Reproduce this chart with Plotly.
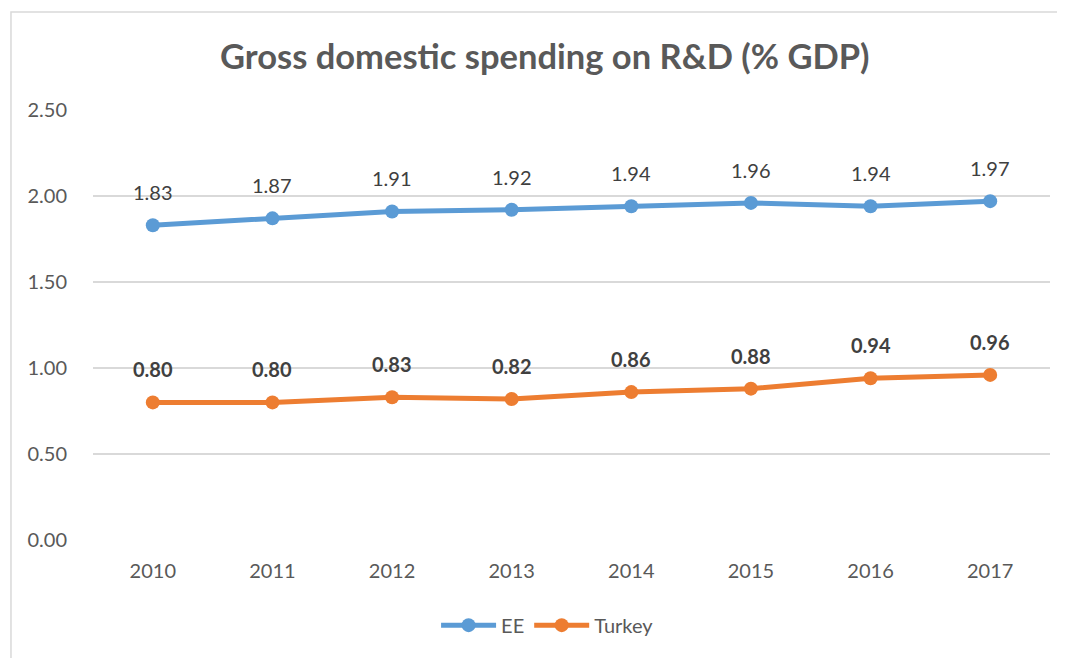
import plotly.graph_objects as go

# data
YEARS = ["2010", "2011", "2012", "2013", "2014", "2015", "2016", "2017"]
EE = [1.83, 1.87, 1.91, 1.92, 1.94, 1.96, 1.94, 1.97]
TURKEY = [0.80, 0.80, 0.83, 0.82, 0.86, 0.88, 0.94, 0.96]
Y_TICKS = [0, 0.5, 1.0, 1.5, 2.0, 2.5]

BLUE = "#5B9BD5"
ORANGE = "#ED7D31"
FONT = "Lato"
GREY = "#595959"

fig = go.Figure()
fig.add_trace(go.Scatter(x=YEARS, y=EE, name="EE", mode="lines+markers",
                         line=dict(color=BLUE, width=5), marker=dict(size=14, color=BLUE)))
fig.add_trace(go.Scatter(x=YEARS, y=TURKEY, name="Turkey", mode="lines+markers",
                         line=dict(color=ORANGE, width=5), marker=dict(size=14, color=ORANGE)))

# data labels above the points (category index so "2010" isn't read as a number)
for i, v in enumerate(EE):
    fig.add_annotation(x=i, y=v, text=f"{v:.2f}", showarrow=False, yshift=33,
                       font=dict(family=FONT, size=20, color="#404040"))
for i, v in enumerate(TURKEY):
    fig.add_annotation(x=i, y=v, text=f"<b>{v:.2f}</b>", showarrow=False, yshift=33,
                       font=dict(family=FONT, size=20, color="#404040"))

# chart border like the Excel chart area
fig.add_shape(type="rect", xref="paper", yref="paper", x0=-0.0857, x1=1.05, y0=-0.35, y1=1.228,
              line=dict(color="#D9D9D9", width=1.5), fillcolor="rgba(0,0,0,0)", layer="below")

fig.update_layout(
    width=1065, height=658,
    paper_bgcolor="white", plot_bgcolor="white",
    margin=dict(l=85, r=23, t=102, b=126),
    font=dict(family=FONT, size=20, color=GREY),
    title=dict(text="<b>Gross domestic spending on R&D (% GDP)</b>", x=0.504, xanchor="center",
               y=0.9255, yanchor="middle", font=dict(family=FONT, size=34.5, color=GREY)),
    xaxis=dict(type="category", range=[-0.5, 7.5], showgrid=False, showline=False, zeroline=False,
               ticks="outside", ticklen=13, tickcolor="rgba(0,0,0,0)",
               tickfont=dict(family=FONT, size=20, color=GREY)),
    yaxis=dict(range=[0, 2.5], tickvals=Y_TICKS, tickformat=".2f", showgrid=True,
               gridcolor="#D9D9D9", gridwidth=1.5, zeroline=False, showline=False,
               ticks="outside", ticklen=21, tickcolor="rgba(0,0,0,0)",
               tickfont=dict(family=FONT, size=20, color=GREY)),
    showlegend=True,
    legend=dict(orientation="h", x=0.475, xanchor="center", y=-0.198, yanchor="middle",
                font=dict(family=FONT, size=20, color=GREY), itemwidth=55,
                bgcolor="rgba(0,0,0,0)"),
)

fig.write_html("out.html")
